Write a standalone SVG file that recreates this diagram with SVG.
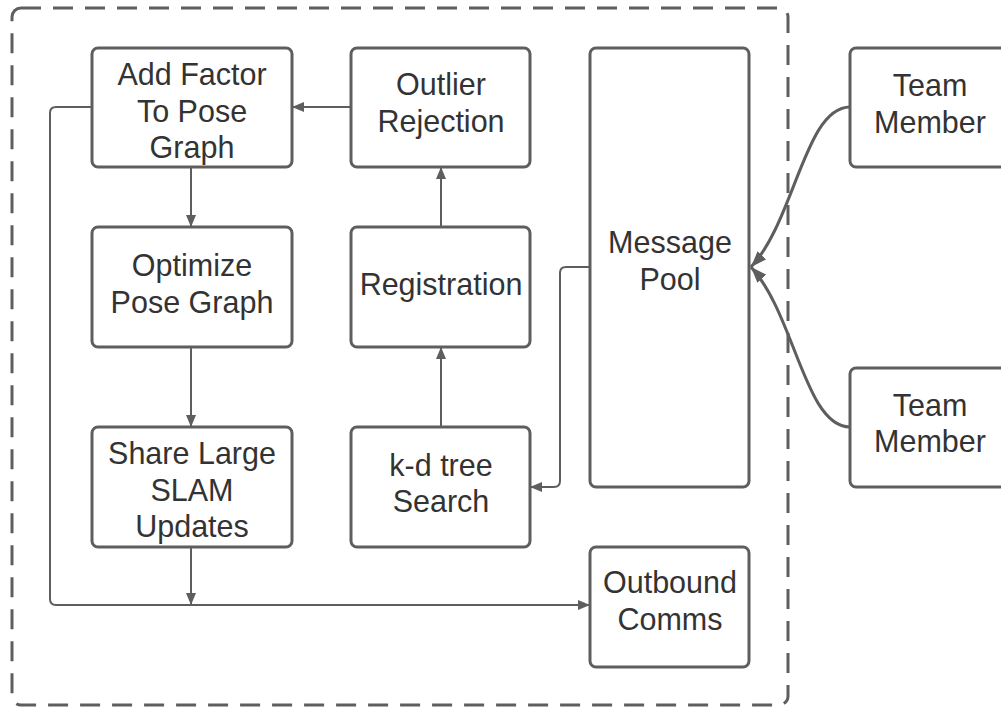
<svg xmlns="http://www.w3.org/2000/svg" width="1001" height="708" viewBox="0 0 1001 708">
<defs>
<style>
.box{fill:#fff;stroke:#5e5e5e;stroke-width:3}
.lbl{font-family:"Liberation Sans",Arial,sans-serif;font-size:30.5px;fill:#333;text-anchor:middle}
.c{fill:none;stroke:#5e5e5e;stroke-width:2}
.cw{fill:none;stroke:#5e5e5e;stroke-width:3}
</style>
<marker id="ah" viewBox="0 0 12 10" refX="12" refY="5" markerWidth="12" markerHeight="10" markerUnits="userSpaceOnUse" orient="auto">
<path d="M0,0 L12,5 L0,10 Z" fill="#5e5e5e"/>
</marker>
<marker id="ahw" viewBox="0 0 16 12" refX="16" refY="6" markerWidth="16" markerHeight="12" markerUnits="userSpaceOnUse" orient="auto">
<path d="M0,0 L16,6 L0,12 Z" fill="#5e5e5e"/>
</marker>
</defs>
<rect width="1001" height="708" fill="#fff"/>
<rect x="12" y="8" width="776" height="697" rx="9" fill="none" stroke="#5e5e5e" stroke-width="3" stroke-dasharray="20 12"/>
<g id="connectors">
<path class="c" d="M351,107 H292" marker-end="url(#ah)"/>
<path class="c" d="M191,167 V227" marker-end="url(#ah)"/>
<path class="c" d="M191,347 V427" marker-end="url(#ah)"/>
<path class="c" d="M191,547 V605" marker-end="url(#ah)"/>
<path class="c" d="M92,107 H56 Q50,107 50,113 V599 Q50,605 56,605 H590" marker-end="url(#ah)"/>
<path class="c" d="M441,427 V347" marker-end="url(#ah)"/>
<path class="c" d="M441,227 V167" marker-end="url(#ah)"/>
<path class="c" d="M590,267 H566 Q560,267 560,273 V481 Q560,487 554,487 H530" marker-end="url(#ah)"/>
<path class="cw" d="M850,107 C805,107 795,220 751,267" marker-end="url(#ahw)"/>
<path class="cw" d="M850,427 C805,427 795,315 751,267" marker-end="url(#ahw)"/>
</g>
<g id="add-factor"><rect class="box" x="92" y="48" width="200" height="119" rx="6"/><text class="lbl" x="192" y="85">Add Factor</text><text class="lbl" x="192" y="122">To Pose</text><text class="lbl" x="192" y="158">Graph</text></g>
<g id="outlier"><rect class="box" x="351" y="48" width="179" height="119" rx="6"/><text class="lbl" x="441" y="95">Outlier</text><text class="lbl" x="441" y="132">Rejection</text></g>
<g id="message-pool"><rect class="box" x="590" y="48" width="159" height="439" rx="6"/><text class="lbl" x="670" y="253">Message</text><text class="lbl" x="670" y="290">Pool</text></g>
<g id="optimize"><rect class="box" x="92" y="227" width="200" height="120" rx="6"/><text class="lbl" x="192" y="276">Optimize</text><text class="lbl" x="192" y="313">Pose Graph</text></g>
<g id="registration"><rect class="box" x="351" y="227" width="179" height="120" rx="6"/><text class="lbl" x="441" y="295">Registration</text></g>
<g id="share"><rect class="box" x="92" y="427" width="200" height="120" rx="6"/><text class="lbl" x="192" y="464">Share Large</text><text class="lbl" x="192" y="501">SLAM</text><text class="lbl" x="192" y="537">Updates</text></g>
<g id="kdtree"><rect class="box" x="351" y="427" width="179" height="120" rx="6"/><text class="lbl" x="441" y="476">k-d tree</text><text class="lbl" x="441" y="512">Search</text></g>
<g id="outbound"><rect class="box" x="590" y="547" width="159" height="120" rx="6"/><text class="lbl" x="670" y="593">Outbound</text><text class="lbl" x="670" y="630">Comms</text></g>
<g id="team1"><rect class="box" x="850" y="48" width="170" height="119" rx="6"/><text class="lbl" x="930" y="96">Team</text><text class="lbl" x="930" y="133">Member</text></g>
<g id="team2"><rect class="box" x="850" y="368" width="170" height="119" rx="6"/><text class="lbl" x="930" y="416">Team</text><text class="lbl" x="930" y="452">Member</text></g>
</svg>
